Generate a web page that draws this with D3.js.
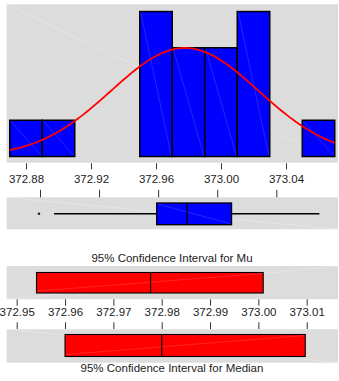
<!DOCTYPE html>
<html lang="en">
<head>
  <meta charset="UTF-8" />
  <title>Summary chart</title>
  <script src="https://d3js.org/d3.v7.min.js"></script>
  <style>
    body { margin: 0; background: #fff; }
    svg { display: block; font-family: "Liberation Sans", Arial, sans-serif; }
    .tick text { font-size: 11.5px; fill: #222; }
    .tick line { stroke: #333; }
    .title { font-size: 11.5px; fill: #222; }
  </style>
</head>
<body>
<svg id="chart" width="339" height="381"></svg>
<script>
// == DATA ==
const binStarts = [372.87, 372.89, 372.91, 372.93, 372.95, 372.97, 372.99, 373.01, 373.03, 373.05];
const binCounts = [1, 1, 0, 0, 4, 3, 3, 4, 0, 1];
const binWidth = 0.02;
const histTicks = [372.88, 372.92, 372.96, 373.00, 373.04];

const fitMean = 372.9777;
const fitSd = 0.0453;
const sampleN = 17;

const boxOutliers = [372.8793];
const boxWhiskers = [372.8895, 373.0692];
const boxQuartiles = [372.959, 372.9795, 373.0097];

const ciMu = [372.9541, 372.9777, 373.0010];
const ciMedian = [372.96, 372.98, 373.0097];
const ciTicks = [372.95, 372.96, 372.97, 372.98, 372.99, 373.00, 373.01];

const svg = d3.select("#chart");
const panelLeft = 6.7, panelRight = 338;
const grey = "#dcdcdc";

function panel(y0, y1, dir) {
  svg.append("rect")
    .attr("x", panelLeft).attr("y", y0)
    .attr("width", panelRight - panelLeft).attr("height", y1 - y0)
    .attr("fill", grey);
  // faint rendering streak across the panel
  svg.append("line")
    .attr("x1", panelLeft).attr("x2", panelRight)
    .attr("y1", dir > 0 ? y0 : y1).attr("y2", dir > 0 ? y1 : y0)
    .attr("stroke", "#fff").attr("stroke-opacity", 0.3).attr("stroke-width", 0.8);
}

// == HISTOGRAM ==
const xh = d3.scaleLinear().domain([372.88, 373.04]).range([26, 286]);
const yh = d3.scaleLinear().domain([0, 4.2]).range([156.5, 4.3]);

panel(4.3, 162.7, 1);

const bars = svg.append("g");
binStarts.forEach((b, i) => {
  const x0 = xh(b), x1 = xh(b + binWidth), y = yh(binCounts[i]);
  bars.append("rect")
    .attr("x", x0).attr("y", y)
    .attr("width", x1 - x0).attr("height", yh(0) - y)
    .attr("fill", "#0000ff").attr("stroke", "#000").attr("stroke-width", 1.5);
  if (binCounts[i] > 0) {
    bars.append("line")
      .attr("x1", x0 + 1).attr("y1", y + 1).attr("x2", x1 - 1).attr("y2", yh(0) - 1)
      .attr("stroke", "#8fa0ff").attr("stroke-opacity", 0.4).attr("stroke-width", 0.6);
  }
});

const curveX = d3.range(0, 201).map(i => binStarts[0] + i * (binStarts[binStarts.length - 1] + binWidth - binStarts[0]) / 200);
const density = v => sampleN * binWidth / (fitSd * Math.sqrt(2 * Math.PI)) * Math.exp(-0.5 * ((v - fitMean) / fitSd) ** 2);
svg.append("path")
  .datum(curveX)
  .attr("d", d3.line().x(d => xh(d)).y(d => yh(density(d))))
  .attr("fill", "none").attr("stroke", "#ff0000").attr("stroke-width", 1.8);

const histAxis = svg.append("g")
  .attr("transform", "translate(0,163.3)")
  .call(d3.axisBottom(xh).tickValues(histTicks).tickSize(6).tickFormat(d3.format(".2f")));
histAxis.select(".domain").remove();
histAxis.selectAll("text").attr("y", 20).attr("dy", 0);

// == BOXPLOT ==
const xb = d3.scaleLinear().domain([372.88, 373.04]).range([40, 276.3]);
panel(197.3, 229.3, 1);
const boxAxis = svg.append("g")
  .attr("transform", "translate(0,197.3)")
  .call(d3.axisTop(xb).tickValues(histTicks).tickSize(7.5).tickFormat(""));
boxAxis.select(".domain").remove();

const bMid = 213.8;
svg.append("line")
  .attr("x1", xb(boxWhiskers[0])).attr("x2", xb(boxQuartiles[0]))
  .attr("y1", bMid).attr("y2", bMid).attr("stroke", "#000").attr("stroke-width", 1.5);
svg.append("line")
  .attr("x1", xb(boxQuartiles[2])).attr("x2", xb(boxWhiskers[1]))
  .attr("y1", bMid).attr("y2", bMid).attr("stroke", "#000").attr("stroke-width", 1.5);
svg.append("rect")
  .attr("x", xb(boxQuartiles[0])).attr("y", 203)
  .attr("width", xb(boxQuartiles[2]) - xb(boxQuartiles[0])).attr("height", 21.7)
  .attr("fill", "#0000ff").attr("stroke", "#000").attr("stroke-width", 1.3);
svg.append("line")
  .attr("x1", xb(boxQuartiles[0]) + 1).attr("y1", 204).attr("x2", xb(boxQuartiles[2]) - 1).attr("y2", 223.7)
  .attr("stroke", "#8fa0ff").attr("stroke-opacity", 0.4).attr("stroke-width", 0.6);
svg.append("line")
  .attr("x1", xb(boxQuartiles[1])).attr("x2", xb(boxQuartiles[1]))
  .attr("y1", 203).attr("y2", 224.7).attr("stroke", "#000").attr("stroke-width", 1.3);
svg.selectAll(".outlier").data(boxOutliers).join("circle")
  .attr("class", "outlier")
  .attr("cx", d => xb(d)).attr("cy", bMid).attr("r", 1.3).attr("fill", "#222");

// == CONFIDENCE INTERVALS ==
const xc = d3.scaleLinear().domain([372.95, 373.01]).range([16.7, 306.7]);

function ciBox(vals, y0, y1) {
  svg.append("rect")
    .attr("x", xc(vals[0])).attr("y", y0)
    .attr("width", xc(vals[2]) - xc(vals[0])).attr("height", y1 - y0)
    .attr("fill", "#ff0000").attr("stroke", "#000").attr("stroke-width", 1.1);
  svg.append("line")
    .attr("x1", xc(vals[0]) + 1).attr("y1", y1 - 2).attr("x2", xc(vals[2]) - 1).attr("y2", y0 + 1)
    .attr("stroke", "#ff9a9a").attr("stroke-opacity", 0.4).attr("stroke-width", 0.6);
  svg.append("line")
    .attr("x1", xc(vals[1])).attr("x2", xc(vals[1]))
    .attr("y1", y0).attr("y2", y1).attr("stroke", "#000").attr("stroke-width", 1.1);
}

svg.append("text").attr("class", "title")
  .attr("x", 172).attr("y", 261.7).attr("text-anchor", "middle")
  .text("95% Confidence Interval for Mu");
panel(266, 299.3, -1);
ciBox(ciMu, 272.5, 293);

const ciAxis = svg.append("g")
  .attr("transform", "translate(0,299.3)")
  .call(d3.axisBottom(xc).tickValues(ciTicks).tickSize(6.4).tickFormat(d3.format(".2f")));
ciAxis.select(".domain").remove();
ciAxis.selectAll("text").attr("y", 16.7).attr("dy", 0);

const ciAxis2 = svg.append("g")
  .attr("transform", "translate(0,329.3)")
  .call(d3.axisTop(xc).tickValues(ciTicks).tickSize(7).tickFormat(""));
ciAxis2.select(".domain").remove();

panel(329.3, 362.7, 1);
ciBox(ciMedian, 334.5, 356.5);
svg.append("text").attr("class", "title")
  .attr("x", 172).attr("y", 371.7).attr("text-anchor", "middle")
  .text("95% Confidence Interval for Median");
</script>
</body>
</html>
